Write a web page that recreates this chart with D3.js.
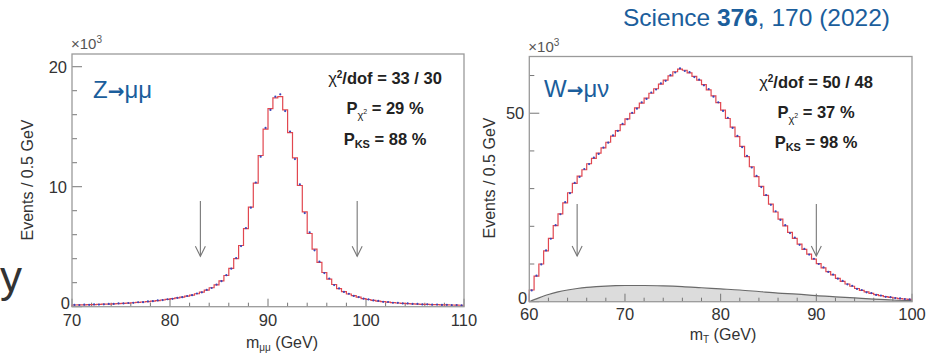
<!DOCTYPE html>
<html>
<head>
<meta charset="utf-8">
<script src="https://cdn.jsdelivr.net/npm/d3@7"></script>
<style>
  body { margin: 0; background: #fff; }
  svg text { font-family: "Liberation Sans", Arial, sans-serif; }
</style>
</head>
<body>
<svg id="chart" width="928" height="356"></svg>
<script>
// ---- Z -> mumu, m_mumu from 70 to 110 GeV, 0.5 GeV bins (x10^3 events)
var zStart = 70, zBin = 0.5;
var zFit = [0.14,0.15,0.16,0.17,0.18,0.19,0.21,0.22,0.24,0.26,
            0.28,0.30,0.33,0.36,0.39,0.43,0.47,0.51,0.56,0.61,
            0.67,0.73,0.80,0.88,0.97,1.08,1.22,1.38,1.58,1.82,
            2.15,2.6,3.2,4.0,5.1,6.5,8.3,10.3,12.6,14.8,
            16.5,17.4,17.5,16.4,14.5,12.4,10.1,7.9,6.1,4.8,
            3.7,2.85,2.3,1.85,1.5,1.25,1.06,0.92,0.79,0.68,
            0.60,0.53,0.47,0.42,0.38,0.34,0.31,0.28,0.26,0.24,
            0.22,0.20,0.19,0.18,0.17,0.16,0.15,0.14,0.13,0.12];
var zData = [0.15,0.14,0.17,0.16,0.19,0.18,0.20,0.23,0.23,0.27,
             0.27,0.31,0.32,0.37,0.38,0.44,0.46,0.52,0.55,0.62,
             0.66,0.74,0.79,0.89,0.96,1.10,1.20,1.40,1.56,1.84,
             2.13,2.63,3.17,4.05,5.05,6.55,8.25,10.35,12.5,14.9,
             16.4,17.5,17.7,16.3,14.6,12.3,10.2,7.8,6.2,4.7,
             3.75,2.8,2.35,1.8,1.52,1.23,1.08,0.90,0.80,0.67,
             0.61,0.52,0.48,0.41,0.39,0.33,0.32,0.27,0.27,0.23,
             0.23,0.19,0.20,0.17,0.18,0.15,0.16,0.13,0.14,0.11];
var zArrows = [83.1, 99.1];
var zXTicks = [70, 80, 90, 100, 110];
var zYTicks = [0, 10, 20];
var zStats = ["33 / 30", "29 %", "88 %"];

// ---- W -> munu, m_T from 60 to 100 GeV, 0.5 GeV bins (x10^3 events)
var wStart = 60, wBin = 0.5;
var wFit = [3.1,6.8,10.0,13.5,16.8,20.2,23.3,26.2,28.9,31.4,
            33.3,35.0,36.6,38.0,39.4,40.8,42.3,43.9,45.4,47.0,
            48.5,50.0,51.4,52.7,54.0,55.3,56.5,57.7,58.8,59.9,
            61.0,61.7,61.4,60.7,59.8,58.8,57.6,56.2,54.6,52.8,
            50.8,48.6,46.3,43.8,41.2,38.5,35.8,33.2,30.6,28.2,
            25.9,23.8,21.9,20.1,18.4,16.8,15.3,13.9,12.6,11.3,
            10.1,9.0,8.0,7.1,6.2,5.4,4.7,4.1,3.5,3.0,
            2.6,2.2,1.9,1.6,1.35,1.15,0.98,0.84,0.72,0.62];
var wData = [3.0,6.9,9.9,13.6,16.7,20.3,23.2,26.4,28.8,31.5,
             33.1,35.2,36.5,38.2,39.2,40.9,42.2,44.1,45.3,47.2,
             48.4,50.1,51.2,52.9,53.8,55.5,56.3,57.9,58.6,60.1,
             60.8,61.9,61.2,60.9,59.6,58.9,57.4,56.4,54.4,52.9,
             50.6,48.8,46.1,44.0,41.0,38.7,35.6,33.4,30.4,28.3,
             25.7,24.0,21.7,20.3,18.2,17.0,15.1,14.0,12.5,11.4,
             10.0,9.1,7.9,7.2,6.1,5.5,4.6,4.2,3.4,3.1,
             2.5,2.3,1.8,1.65,1.3,1.2,0.95,0.86,0.70,0.63];
var wBkgX = [60,61,62,63,64,65,66,67,68,69,70,72,74,76,78,80,82,84,86,88,90,92,94,96,98,100];
var wBkgY = [0,1.0,1.9,2.6,3.1,3.5,3.8,4.0,4.15,4.25,4.3,4.3,4.2,4.0,3.7,3.4,3.1,2.7,2.3,2.0,1.6,1.3,1.0,0.7,0.45,0.3];
var wArrows = [65, 90];
var wXTicks = [60, 70, 80, 90, 100];
var wYTicks = [0, 50];
var wStats = ["50 / 48", "37 %", "98 %"];

var blue = "#1b5e9c";
var svg = d3.select("#chart");

function drawPanel(p) {
    var x = d3.scaleLinear().domain(p.xDomain).range([p.left, p.right]);
    var y = d3.scaleLinear().domain(p.yDomain).range([p.bottom, p.top]);
    var g = svg.append("g");

    // background (W only)
    if (p.bkgX) {
        var pts = p.bkgX.map(function(v, i){ return [v, p.bkgY[i]]; });
        g.append("path")
            .attr("d", d3.area().x(function(d){ return x(d[0]); })
                .y0(y(0)).y1(function(d){ return y(d[1]); })
                .curve(d3.curveMonotoneX)(pts))
            .attr("fill", "#dcdcdc");
        g.append("path")
            .attr("d", d3.line().x(function(d){ return x(d[0]); })
                .y(function(d){ return y(d[1]); })
                .curve(d3.curveMonotoneX)(pts))
            .attr("fill", "none").attr("stroke", "#6a6a6a").attr("stroke-width", 1.2);
    }

    // ticks (inside frame, ROOT style)
    d3.range(p.xDomain[0], p.xDomain[1] + 0.01, 2).forEach(function(t){
        var major = (t % 10 === 0);
        g.append("line")
            .attr("x1", x(t)).attr("x2", x(t))
            .attr("y1", p.bottom).attr("y2", p.bottom - (major ? 8 : 4))
            .attr("stroke", "#777").attr("stroke-width", 1);
    });
    d3.range(0, p.yDomain[1], p.yMinor).forEach(function(t){
        var major = (t % p.yMajor === 0);
        g.append("line")
            .attr("x1", p.left).attr("x2", p.left + (major ? 10 : 5))
            .attr("y1", y(t)).attr("y2", y(t))
            .attr("stroke", "#777").attr("stroke-width", 1);
    });

    // fit histogram (step)
    var steps = [[p.xDomain[0], 0]];
    p.fit.forEach(function(v, i){
        var lo = p.start + i * p.bin;
        steps.push([lo, v]);
        steps.push([lo + p.bin, v]);
    });
    g.append("path")
        .attr("d", d3.line().x(function(d){ return x(d[0]); }).y(function(d){ return y(d[1]); })(steps))
        .attr("fill", "none").attr("stroke", "#e2474f").attr("stroke-width", 1.2);

    // data points
    g.selectAll(".pt").data(p.data).enter().append("circle")
        .attr("cx", function(d, i){ return x(p.start + (i + 0.5) * p.bin); })
        .attr("cy", function(d){ return y(d); })
        .attr("r", 1.1)
        .attr("fill", "#3a46b8");

    // frame
    g.append("rect")
        .attr("x", p.left).attr("y", p.top)
        .attr("width", p.right - p.left).attr("height", p.bottom - p.top)
        .attr("fill", "none").attr("stroke", "#9a9a9a").attr("stroke-width", 1.3);

    // arrows
    p.arrows.forEach(function(a){
        var ax = x(a), y1 = y(p.arrowFrom), y2 = y(p.arrowTo);
        g.append("line").attr("x1", ax).attr("x2", ax).attr("y1", y1).attr("y2", y2)
            .attr("stroke", "#777").attr("stroke-width", 1.1);
        g.append("path")
            .attr("d", "M" + (ax - 5) + "," + (y2 - 10) + "L" + ax + "," + y2 + "L" + (ax + 5) + "," + (y2 - 10))
            .attr("fill", "none").attr("stroke", "#777").attr("stroke-width", 1.1);
    });

    // tick labels
    p.xTicks.forEach(function(t){
        g.append("text").attr("x", x(t)).attr("y", p.bottom + p.xLabOff)
            .attr("text-anchor", "middle").attr("font-size", 16.5).attr("fill", "#333").text(t);
    });
    p.yTicks.forEach(function(t){
        g.append("text").attr("x", p.left - (t === 0 ? 2 : 5)).attr("y", y(t) + (t === 0 ? 2 : 6))
            .attr("text-anchor", "end").attr("font-size", 16.5).attr("fill", "#333").text(t);
    });

    // x10^3
    var e = g.append("text").attr("x", p.left - 1).attr("y", p.top - 5)
        .attr("font-size", 15).attr("fill", "#555");
    e.append("tspan").text("\u00d710");
    e.append("tspan").attr("dy", -6).attr("font-size", 10).text("3");

    // y title
    g.append("text")
        .attr("transform", "translate(" + p.yTitleX + "," + p.yTitleY + ") rotate(-90)")
        .attr("text-anchor", "middle").attr("font-size", 16).attr("fill", "#333")
        .text("Events / 0.5 GeV");

    // x title
    var xt = g.append("text").attr("x", p.xTitleX).attr("y", p.xTitleY)
        .attr("text-anchor", "middle").attr("font-size", 16).attr("fill", "#333");
    xt.append("tspan").text("m");
    xt.append("tspan").attr("dy", 3).attr("font-size", 10).text(p.xSub);
    xt.append("tspan").attr("dy", -3).text(" (GeV)");

    // process label
    var pl = g.append("text").attr("x", p.procX).attr("y", p.procY)
        .attr("font-size", 24).attr("fill", blue);
    pl.append("tspan").text(p.proc[0]);
    pl.append("tspan").attr("font-family", "DejaVu Sans").attr("font-weight", "bold")
        .attr("font-size", 20).text("\u2192");
    pl.append("tspan").text(p.proc[1]);

    // fit statistics
    var fs = 16.5;
    var s1 = g.append("text").attr("x", p.statX).attr("y", p.statY[0])
        .attr("text-anchor", "middle").attr("font-size", fs).attr("font-weight", "bold").attr("fill", "#222");
    s1.append("tspan").attr("font-weight", "normal").text("\u03c7");
    s1.append("tspan").attr("dy", -6).attr("font-size", 10).text("2");
    s1.append("tspan").attr("dy", 6).text("/dof = " + p.stats[0]);

    var s2 = g.append("text").attr("x", p.statX).attr("y", p.statY[1])
        .attr("text-anchor", "middle").attr("font-size", fs).attr("font-weight", "bold").attr("fill", "#222");
    s2.append("tspan").text("P");
    s2.append("tspan").attr("dy", 5).attr("font-size", 11).attr("font-weight", "normal").text("\u03c7");
    s2.append("tspan").attr("dy", -5).attr("font-size", 7).attr("font-weight", "normal").text("2");
    s2.append("tspan").attr("dy", 0).text(" = " + p.stats[1]);

    var s3 = g.append("text").attr("x", p.statX).attr("y", p.statY[2])
        .attr("text-anchor", "middle").attr("font-size", fs).attr("font-weight", "bold").attr("fill", "#222");
    s3.append("tspan").text("P");
    s3.append("tspan").attr("dy", 3).attr("font-size", 11).text("KS");
    s3.append("tspan").attr("dy", -3).text(" = " + p.stats[2]);
}

drawPanel({
    left: 72, right: 464, top: 54, bottom: 306.7,
    xDomain: [70, 110], yDomain: [0, 21.06], yMinor: 2, yMajor: 10,
    start: zStart, bin: zBin, fit: zFit, data: zData,
    arrows: zArrows, arrowFrom: 8.8, arrowTo: 4.2,
    xTicks: zXTicks, yTicks: zYTicks, xLabOff: 19,
    yTitleX: 33, yTitleY: 180, xTitleX: 282, xTitleY: 348, xSub: "\u03bc\u03bc",
    proc: ["Z", "\u03bc\u03bc"], procX: 93, procY: 98,
    statX: 385, statY: [84, 114, 145], stats: zStats
});

drawPanel({
    left: 529.3, right: 912, top: 56.5, bottom: 301.7,
    xDomain: [60, 100], yDomain: [0, 65.05], yMinor: 10, yMajor: 50,
    start: wStart, bin: wBin, fit: wFit, data: wData,
    bkgX: wBkgX, bkgY: wBkgY,
    arrows: wArrows, arrowFrom: 25.9, arrowTo: 12.1,
    xTicks: wXTicks, yTicks: wYTicks, xLabOff: 18,
    yTitleX: 495, yTitleY: 178, xTitleX: 723, xTitleY: 340, xSub: "T",
    proc: ["W", "\u03bc\u03bd"], procX: 544, procY: 97,
    statX: 816, statY: [88, 118, 148], stats: wStats
});

// citation
var cite = svg.append("text").attr("x", 623).attr("y", 26)
    .attr("font-size", 24.5).attr("fill", blue);
cite.append("tspan").text("Science ");
cite.append("tspan").attr("font-weight", "bold").text("376");
cite.append("tspan").text(", 170 (2022)");

// leftover letter from the slide behind
svg.append("text").attr("x", 0).attr("y", 292)
    .attr("font-size", 44).attr("fill", "#333").text("y");
</script>
</body>
</html>
